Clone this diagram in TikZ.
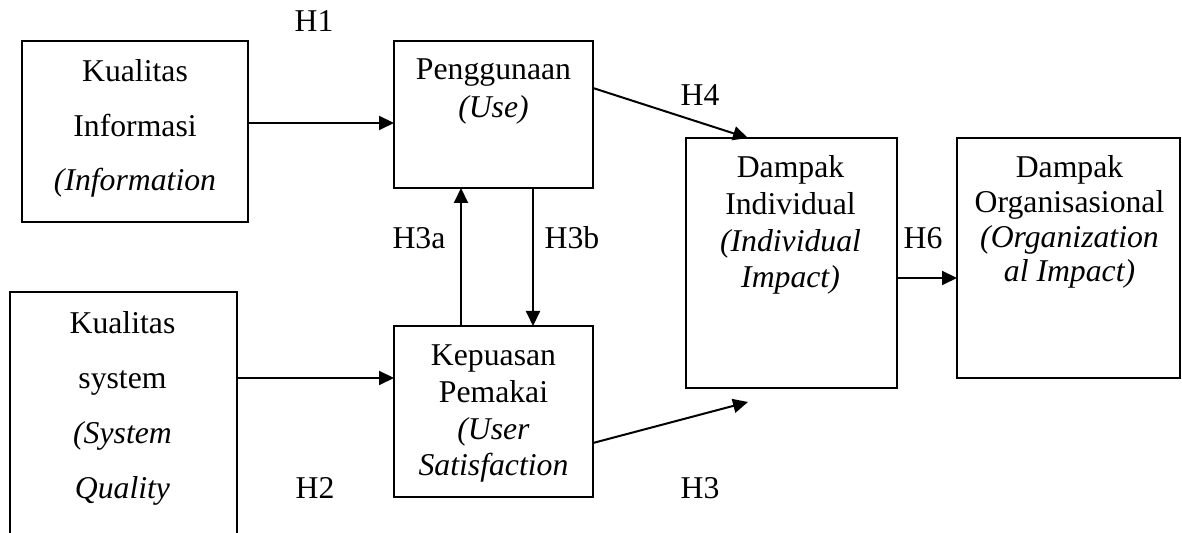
\documentclass[tikz,border=0pt]{standalone}
\usepackage{fontspec}
\setmainfont{Liberation Serif}
\usetikzlibrary{arrows.meta}
\begin{document}
\begin{tikzpicture}[x=0.5pt,y=-0.5pt,
  box/.style={draw, line width=0.8pt, inner sep=0pt, outer sep=0pt},
  txt/.style={anchor=base, inner sep=0pt, font=\fontsize{15.86}{19}\selectfont},
  arr/.style={line width=1pt, -{Triangle[length=7.5pt,width=7pt]}}]
\useasboundingbox (0,0) rectangle (1182,533);
\clip (0,0) rectangle (1182,533);
\fill[white] (0,0) rectangle (1182,533);

% boxes
\node[box, minimum width=113pt, minimum height=90.5pt] (info) at (135,131.5) {};
\node[box, minimum width=113.5pt, minimum height=134pt] (sys) at (123.5,426) {};
\node[box, minimum width=99.5pt, minimum height=73.5pt] (pen) at (493.5,114.5) {};
\node[box, minimum width=99.5pt, minimum height=85.5pt] (kep) at (493.5,411.5) {};
\node[box, minimum width=105.5pt, minimum height=125pt] (dind) at (791.5,263) {};
\node[box, minimum width=111.5pt, minimum height=120pt] (dorg) at (1068.5,258) {};

% texts
\node[txt] (info1) at (135,82) {Kualitas};
\node[txt] (info2) at (135,137) {Informasi};
\node[txt] (info3) at (135,191) {\textit{(Information}};

\node[txt] (sys1) at (122.5,334) {Kualitas};
\node[txt] (sys2) at (122.5,389) {system};
\node[txt] (sys3) at (122.5,444) {\textit{(System}};
\node[txt] (sys4) at (122.5,499) {\textit{Quality}};

\node[txt] (pen1) at (493.5,80) {Penggunaan};
\node[txt] (pen2) at (493.5,118) {\textit{(Use)}};

\node[txt] (kep1) at (493.5,366) {Kepuasan};
\node[txt] (kep2) at (493.5,403) {Pemakai};
\node[txt] (kep3) at (493.5,440) {\textit{(User}};
\node[txt] (kep4) at (493.5,476) {\textit{Satisfaction}};

\node[txt] (dind1) at (790.5,178) {Dampak};
\node[txt] (dind2) at (790.5,215) {Individual};
\node[txt] (dind3) at (790.5,252) {\textit{(Individual}};
\node[txt] (dind4) at (790.5,288) {\textit{Impact)}};

\node[txt] (dorg1) at (1069.5,178) {Dampak};
\node[txt] (dorg2) at (1069.5,213) {Organisasional};
\node[txt] (dorg3) at (1069.5,248) {\textit{(Organization}};
\node[txt] (dorg4) at (1069.5,282) {\textit{al Impact)}};

% labels
\node[txt] (h1) at (314,32) {H1};
\node[txt] (h2) at (315,498) {H2};
\node[txt] (h3a) at (419,249) {H3a};
\node[txt] (h3b) at (572,249) {H3b};
\node[txt] (h4) at (700,106) {H4};
\node[txt] (h3) at (700,498) {H3};
\node[txt] (h6) at (923,249) {H6};

% connectors
\draw[arr] ([yshift=-41pt]info.north east) -- ([yshift=-41pt]pen.north west);
\draw[arr] ([yshift=-43pt]sys.north east) -- ([yshift=-26pt]kep.north west);
\draw[arr] ([xshift=33.5pt]kep.north west) -- ([xshift=33.5pt]pen.south west);
\draw[arr] ([xshift=69.5pt]pen.south west) -- ([xshift=69.5pt]kep.north west);
\draw[arr] ([yshift=-23.5pt]pen.north east) -- ([xshift=31pt]dind.north west);
\draw[arr] ([yshift=-58.5pt]kep.north east) -- ([xshift=31pt,yshift=-7pt]dind.south west);
\draw[arr] ([yshift=-70pt]dind.north east) -- ([yshift=-70pt]dorg.north west);
\end{tikzpicture}
\end{document}
